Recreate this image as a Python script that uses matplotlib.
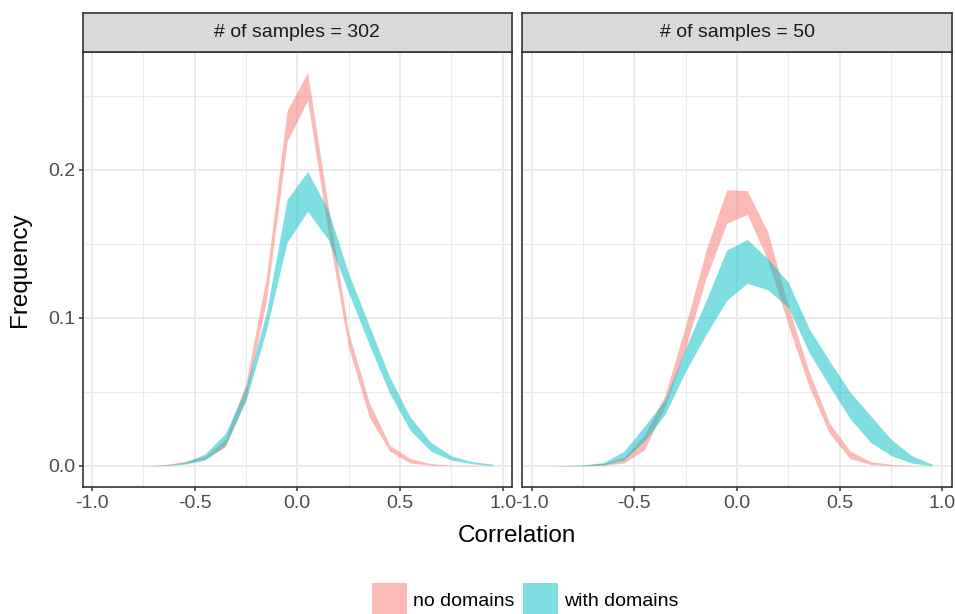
"""
plot.py

Correlation frequency ribbons (with vs. without domains) for two sample sizes,
drawn as ggplot-style facets.
"""

import matplotlib
matplotlib.use("Agg")
import matplotlib.pyplot as plt
from matplotlib.patches import Rectangle

plt.rcParams["font.family"] = ["Liberation Sans", "DejaVu Sans"]

# Bin centres of the correlation histogram
bin_centers = [-0.95, -0.85, -0.75, -0.65, -0.55, -0.45, -0.35, -0.25, -0.15, -0.05,
               0.05, 0.15, 0.25, 0.35, 0.45, 0.55, 0.65, 0.75, 0.85, 0.95]

facet_titles = ["# of samples = 302", "# of samples = 50"]
series_names = ["no domains", "with domains"]

# n = 302
n302_no_lo = [0, 0, 0, 0.0003, 0.0018, 0.0045, 0.013, 0.046, 0.112, 0.219,
              0.247, 0.158, 0.080, 0.033, 0.010, 0.002, 0.0005, 0.0002, 0, 0]
n302_no_hi = [0, 0, 0, 0.0008, 0.003, 0.0065, 0.018, 0.056, 0.128, 0.240,
              0.266, 0.176, 0.090, 0.043, 0.014, 0.005, 0.0016, 0.0005, 0.0002, 0]
n302_with_lo = [0, 0, 0, 0.0002, 0.0012, 0.004, 0.014, 0.044, 0.092, 0.151,
                0.172, 0.153, 0.117, 0.082, 0.049, 0.024, 0.010, 0.004, 0.0015, 0.0002]
n302_with_hi = [0, 0, 0, 0.0006, 0.0023, 0.008, 0.022, 0.053, 0.104, 0.180,
                0.199, 0.173, 0.130, 0.095, 0.060, 0.033, 0.016, 0.0068, 0.003, 0.0012]

# n = 50
n50_no_lo = [0, 0, 0.0002, 0.0005, 0.002, 0.011, 0.040, 0.080, 0.127, 0.164,
             0.170, 0.139, 0.095, 0.054, 0.022, 0.005, 0.001, 0.0002, 0, 0]
n50_no_hi = [0, 0.0001, 0.0007, 0.0017, 0.006, 0.021, 0.048, 0.095, 0.146, 0.1865,
             0.186, 0.158, 0.108, 0.064, 0.029, 0.010, 0.003, 0.001, 0.0002, 0]
n50_with_lo = [0, 0, 0.0002, 0.0007, 0.004, 0.017, 0.035, 0.064, 0.089, 0.112,
               0.1234, 0.119, 0.107, 0.077, 0.054, 0.032, 0.016, 0.007, 0.002, 0.0002]
n50_with_hi = [0, 0.0002, 0.0007, 0.0023, 0.010, 0.027, 0.045, 0.080, 0.112, 0.146,
               0.153, 0.140, 0.124, 0.093, 0.071, 0.050, 0.034, 0.018, 0.007, 0.0012]

x_ticks = [-1.0, -0.5, 0.0, 0.5, 1.0]
x_tick_labels = ["-1.0", "-0.5", "0.0", "0.5", "1.0"]
x_minor = [-0.75, -0.25, 0.25, 0.75]
y_ticks = [0.0, 0.1, 0.2]
y_tick_labels = ["0.0", "0.1", "0.2"]
y_minor = [0.05, 0.15, 0.25]

COLORS = ["#F8766D", "#00BFC4"]
W, H = 955, 614


def _fx(px):
    return px / W


def _fy(py):
    return 1 - py / H


def _style_panel(ax, show_y):
    ax.set_xlim(-1.045, 1.045)
    ax.set_ylim(-0.0142, 0.2797)
    ax.set_xticks(x_ticks)
    ax.set_xticklabels(x_tick_labels)
    ax.set_xticks(x_minor, minor=True)
    ax.set_yticks(y_ticks)
    ax.set_yticks(y_minor, minor=True)
    ax.grid(True, which="major", color="#EBEBEB", linewidth=1.4)
    ax.grid(True, which="minor", color="#EBEBEB", linewidth=0.8)
    ax.set_axisbelow(True)
    ax.tick_params(which="major", length=3, width=1.1, color="#333333",
                   labelcolor="#4D4D4D", labelsize=14, pad=2.5)
    ax.tick_params(which="minor", length=0)
    if show_y:
        ax.set_yticklabels(y_tick_labels)
    else:
        # shared y scale: no ticks on the second facet
        ax.set_yticklabels([])
        ax.tick_params(axis="y", which="major", length=0)
    for sp in ax.spines.values():
        sp.set_color("#333333")
        sp.set_linewidth(1.2)


def main():
    fig = plt.figure(figsize=(W / 100, H / 100), dpi=100)

    panels = [
        (82.6, [(n302_no_lo, n302_no_hi), (n302_with_lo, n302_with_hi)]),
        (522.3, [(n50_no_lo, n50_no_hi), (n50_with_lo, n50_with_hi)]),
    ]
    panel_w = 429.4
    top, bottom, strip_top = 52, 487, 13

    for i, (left, ribbons) in enumerate(panels):
        ax = fig.add_axes([_fx(left), _fy(bottom), panel_w / W, (bottom - top) / H])
        for (lo, hi), col in zip(ribbons, COLORS):
            ax.fill_between(bin_centers, lo, hi, color=col, alpha=0.5, linewidth=0)
        _style_panel(ax, show_y=(i == 0))

        # facet strip
        sax = fig.add_axes([_fx(left), _fy(top), panel_w / W, (top - strip_top) / H])
        sax.set_facecolor("#D9D9D9")
        sax.set_xticks([])
        sax.set_yticks([])
        for sp in sax.spines.values():
            sp.set_color("#333333")
            sp.set_linewidth(1.2)
        sax.text(0.5, 0.5, facet_titles[i], ha="center", va="center",
                 fontsize=14, color="#1A1A1A", transform=sax.transAxes)

    fig.text(_fx(517), _fy(536), "Correlation", ha="center", va="center", fontsize=17.5)
    fig.text(_fx(20), _fy(270), "Frequency", ha="center", va="center",
             fontsize=17.5, rotation=90)

    # legend along the bottom edge
    key_x = [372, 523]
    text_x = [413, 564]
    for kx, tx, col, name in zip(key_x, text_x, COLORS, series_names):
        fig.add_artist(Rectangle((_fx(kx), 0), 35 / W, 31 / H, transform=fig.transFigure,
                                 facecolor=col, alpha=0.5, linewidth=0))
        fig.text(_fx(tx), _fy(601), name, ha="left", va="center", fontsize=14, color="black")

    fig.savefig("out.png", dpi=100)
    plt.close(fig)


if __name__ == "__main__":
    main()
